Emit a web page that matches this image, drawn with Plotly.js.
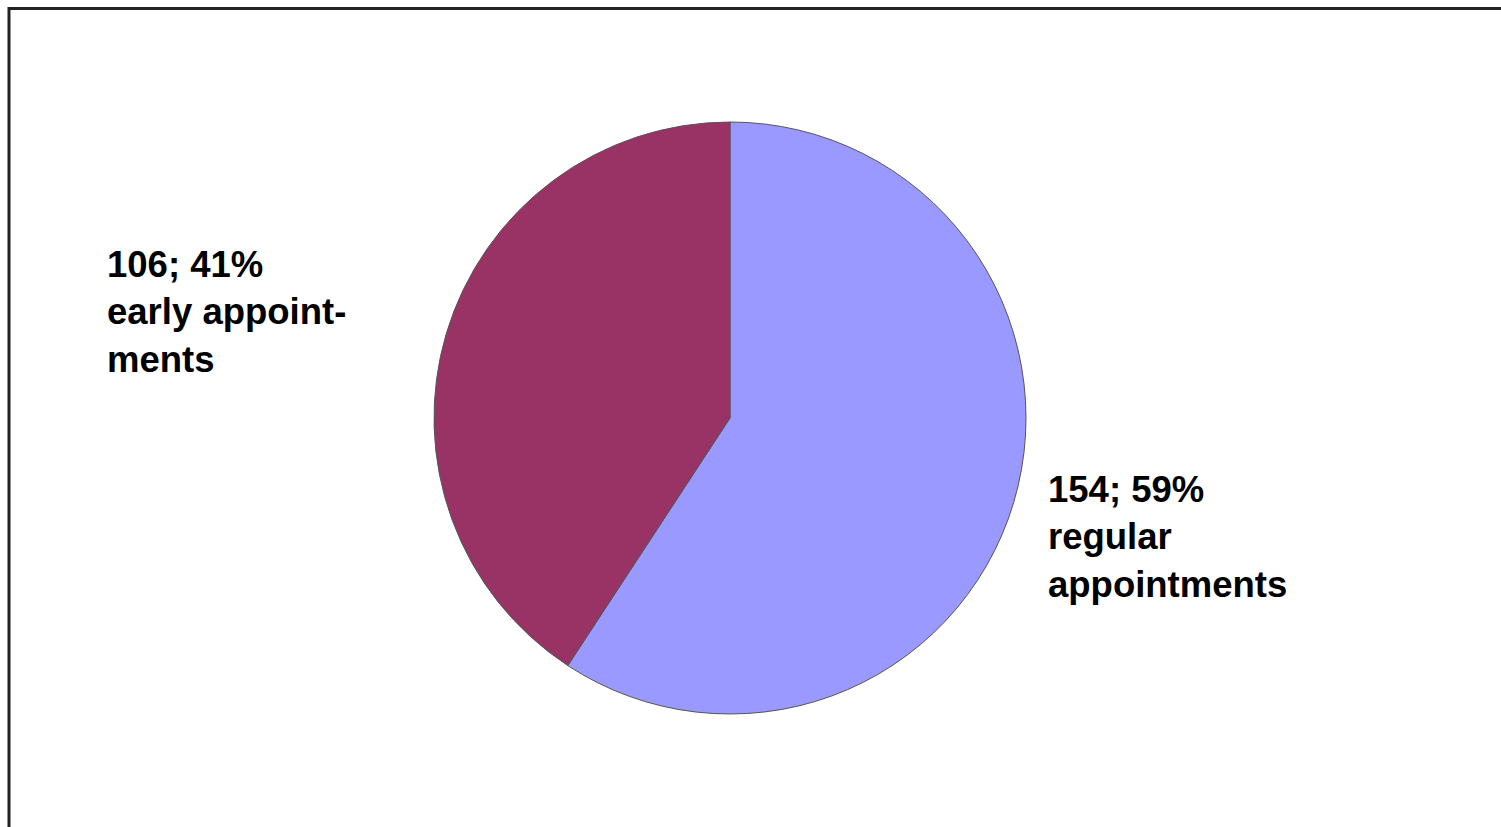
<!DOCTYPE html>
<html>
<head>
<meta charset="utf-8">
<script src="https://cdn.plot.ly/plotly-3.0.1.min.js"></script>
<style>
  html, body { margin: 0; padding: 0; background: #ffffff; }
  #chart { width: 1501px; height: 827px; }
</style>
</head>
<body>
<div id="chart"></div>
<script>
const categories = ["regular appointments", "early appointments"];
const values = [154, 106];
const percents = [59, 41];
const labelLines = [["regular", "appointments"], ["early appoint-", "ments"]];
const colors = ["#9999FF", "#993366"];

const W = 1501, H = 827;
const cx = 730, cy = 418, r = 296;

const trace = {
  type: "pie",
  labels: categories,
  values: values,
  sort: false,
  direction: "clockwise",
  rotation: 0,
  textinfo: "none",
  hoverinfo: "label+value+percent",
  marker: { colors: colors, line: { color: "#555555", width: 1 } },
  domain: {
    x: [(cx - r) / W, (cx + r) / W],
    y: [(H - cy - r) / H, (H - cy + r) / H]
  },
  showlegend: false
};

const labelPos = [
  { x: 1046, y: 467 },
  { x: 105, y: 242 }
];

const annotations = categories.map((c, i) => ({
  xref: "paper", yref: "paper",
  x: labelPos[i].x / W,
  y: 1 - labelPos[i].y / H,
  xanchor: "left", yanchor: "top", align: "left",
  showarrow: false,
  text: "<b>" + values[i] + "; " + percents[i] + "%<br>" + labelLines[i].join("<br>") + "</b>",
  font: { family: "Liberation Sans, Arial, sans-serif", size: 36.5, color: "#000000" }
}));

const layout = {
  width: W, height: H,
  margin: { l: 0, r: 0, t: 0, b: 0 },
  paper_bgcolor: "#ffffff",
  plot_bgcolor: "#ffffff",
  annotations: annotations,
  shapes: [{
    type: "rect", xref: "paper", yref: "paper",
    x0: 9 / W, x1: 1.05, y0: -0.05, y1: 1 - 8.5 / H,
    line: { color: "#222222", width: 3 },
    fillcolor: "rgba(0,0,0,0)"
  }]
};

Plotly.newPlot("chart", [trace], layout, { displayModeBar: false, staticPlot: true });
</script>
</body>
</html>
